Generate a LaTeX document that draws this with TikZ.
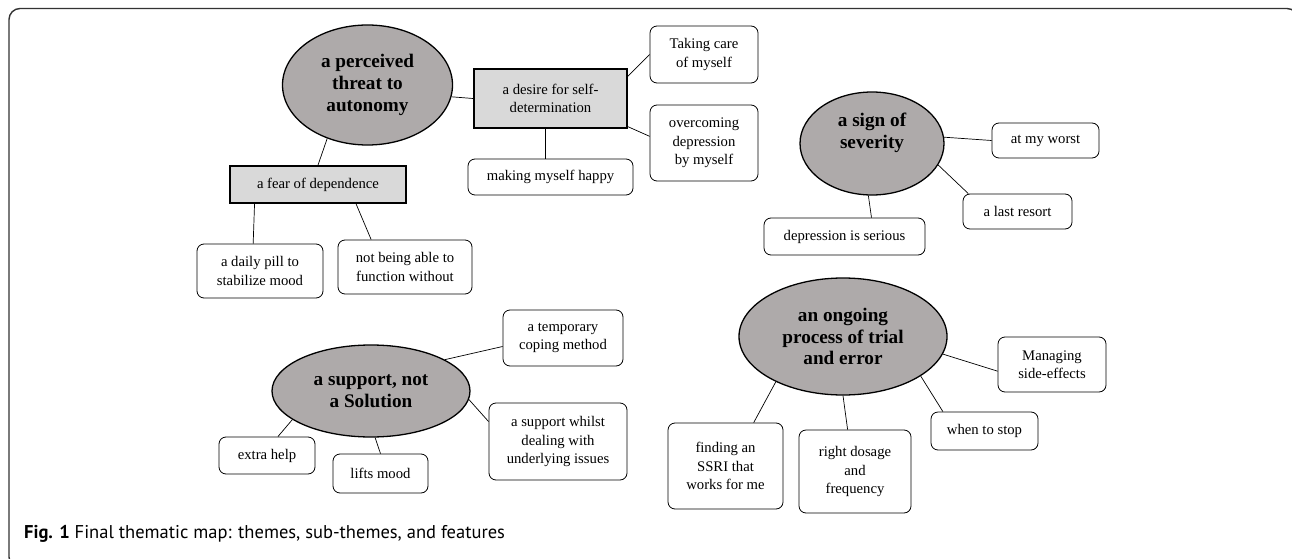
\documentclass[tikz,border=0pt]{standalone}
\usepackage{fontspec}
\setmainfont{Liberation Serif}
\newfontfamily\capfont{PT Sans}
\usetikzlibrary{shapes.geometric}
\definecolor{themegray}{HTML}{AEAAAA}
\definecolor{subgray}{HTML}{D9D9D9}
\definecolor{framegray}{HTML}{333333}
\tikzset{
  theme/.style={ellipse, draw=black, line width=1.3pt, fill=themegray, align=center, inner sep=0pt,
    font=\fontsize{19.2}{21.7}\selectfont\bfseries},
  subtheme/.style={rectangle, draw=black, line width=1.8pt, fill=subgray, align=center, inner sep=0pt,
    font=\fontsize{14.7}{18.3}\selectfont},
  feature/.style={rectangle, rounded corners=7pt, draw=black, line width=0.8pt, fill=white, align=center, inner sep=0pt,
    font=\fontsize{14.7}{18.3}\selectfont},
  link/.style={draw=black, line width=0.7pt}
}
\begin{document}
\begin{tikzpicture}[x=1pt,y=-1pt]
\useasboundingbox (0,0) rectangle (1292,559);
\begin{scope}
\clip (0,0) rectangle (1292,559);
\draw[framegray, line width=1.4pt, rounded corners=11pt] (9,8.5) rectangle (1298,568);
\end{scope}

% theme 1
\node[theme, minimum width=170pt, minimum height=120pt] (t1) at (367.5,85) {a perceived\\threat to\\autonomy};
\node[subtheme, minimum width=153pt, minimum height=59pt] (s1) at (550.5,98.5) {a desire for self-\\determination};
\node[subtheme, minimum width=176pt, minimum height=37pt] (s2) at (318,184.5) {a fear of dependence};
\node[feature, minimum width=165pt, minimum height=36pt] (f1) at (550.5,177) {making myself happy};
\node[feature, minimum width=108pt, minimum height=57pt] (f2) at (704,54.5) {Taking care\\of myself};
\node[feature, minimum width=108pt, minimum height=76pt] (f3) at (704,143) {overcoming\\depression\\by myself};
\node[feature, minimum width=126pt, minimum height=54pt] (f4) at (260,271) {a daily pill to\\stabilize mood};
\node[feature, minimum width=134pt, minimum height=54pt] (f5) at (405,267) {not being able to\\function without};

\draw[link] (t1.-8) -- (s1.west);
\draw[link] (t1.-127) -- (s2.north);
\draw[link] ([xshift=-5pt]s1.south) -- ([xshift=-5pt]f1.north);
\draw[link] (s1.16) -- (f2.west);
\draw[link] (s1.-20) -- (f3.173);
\draw[link] (s2.197) -- (f4.104);
\draw[link] (s2.-27) -- (f5.141);

% theme 2
\node[theme, minimum width=144pt, minimum height=103pt] (t2) at (872,143.5) {a sign of\\severity\\[4pt]};
\node[feature, minimum width=107pt, minimum height=35pt] (g1) at (1045.5,140.5) {at my worst};
\node[feature, minimum width=109pt, minimum height=35pt] (g2) at (1017.5,211.5) {a last resort};
\node[feature, minimum width=161pt, minimum height=37pt] (g3) at (844.5,236.5) {depression is serious};
\draw[link] (t2.5) -- (g1.west);
\draw[link] (t2.-18) -- (g2.160);
\draw[link] (t2.-94) -- (g3.35);

% theme 3
\node[theme, minimum width=198pt, minimum height=92pt] (t3) at (371,391) {a support, not\\a Solution};
\node[feature, minimum width=120pt, minimum height=56pt] (h1) at (563,338) {a temporary\\coping method};
\node[feature, minimum width=138pt, minimum height=77pt] (h2) at (558,441.5) {a support whilst\\dealing with\\underlying issues};
\node[feature, minimum width=96pt, minimum height=37pt] (h3) at (267,455.5) {extra help};
\node[feature, minimum width=95pt, minimum height=39pt] (h4) at (380.5,473.5) {lifts mood};
\draw[link] (t3.23) -- (h1.188);
\draw[link] (t3.-5) -- (h2.164);
\draw[link] (t3.-160) -- (h3.60);
\draw[link] (t3.-85) -- (h4.north);

% theme 4
\node[theme, minimum width=208pt, minimum height=117pt] (t4) at (843,336.5) {an ongoing\\process of trial\\and error};
\node[feature, minimum width=108pt, minimum height=55pt] (k1) at (1052,364.5) {Managing\\side-effects};
\node[feature, minimum width=107pt, minimum height=38pt] (k2) at (984.5,431) {when to stop};
\node[feature, minimum width=112pt, minimum height=83pt] (k3) at (855,471.5) {right dosage\\and\\frequency};
\node[feature, minimum width=115pt, minimum height=86pt] (k4) at (725.5,466) {finding an\\SSRI that\\works for me};
\draw[link] (t4.-10) -- (k1.187);
\draw[link] (t4.-27) -- (k2.155);
\draw[link] (t4.south) -- (k3.100);
\draw[link] (t4.214) -- (k4.57);

% caption
\node[anchor=base west, inner sep=0pt, font=\capfont\fontsize{18.5}{22}\selectfont] (cap) at (24,538)
  {\textbf{Fig. 1} Final thematic map: themes, sub-themes, and features};
\end{tikzpicture}
\end{document}
